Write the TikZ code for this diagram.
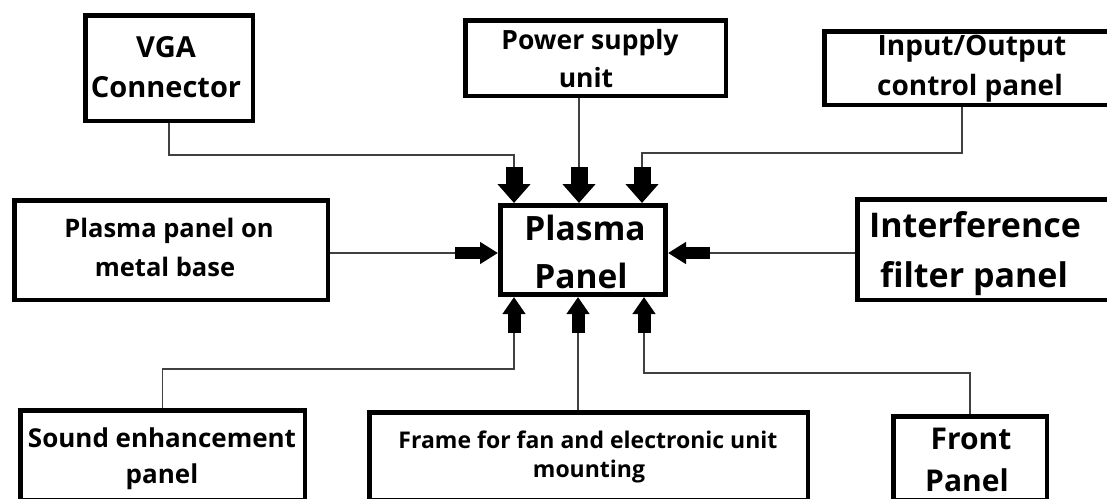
\documentclass[tikz,border=0pt]{standalone}
\usepackage{fontspec}
\setmainfont{Open Sans}
\usetikzlibrary{arrows.meta}
\tikzset{
  box/.style={draw=black, line width=4.5pt, fill=white, inner sep=0pt},
  txt/.style={anchor=base, inner sep=0pt, text=black},
  conn/.style={draw=black!75, line width=1.6pt},
  topar/.style={line width=17pt, -{Triangle[length=19pt,width=32pt]}},
  botar/.style={line width=13pt, -{Triangle[length=17pt,width=22pt]}},
  sidear/.style={line width=12pt, -{Triangle[length=18pt,width=21pt]}},
}
\newcommand{\fs}[1]{\fontsize{#1}{#1}\selectfont\bfseries}
\begin{document}
\begin{tikzpicture}[x=1pt,y=-1pt]
\fill[white] (0,0) rectangle (1107,498);
\useasboundingbox (0,0) rectangle (1107,498);

% boxes
\node[box, minimum width=167.5pt, minimum height=105.5pt] (vga) at (169,68) {};
\node[box, minimum width=260.5pt, minimum height=75.5pt] (psu) at (595.5,58) {};
\node[box, minimum width=288.5pt, minimum height=73.5pt] (io) at (968.5,68) {};
\node[box, minimum width=313.5pt, minimum height=99.5pt] (metal) at (171,250) {};
\node[box, line width=5pt, minimum width=165pt, minimum height=89pt] (pp) at (583,250) {};
\node[box, minimum width=255.5pt, minimum height=100.5pt] (intf) at (985,249.5) {};
\node[box, minimum width=284.5pt, minimum height=89.5pt] (sound) at (162.5,455) {};
\node[box, minimum width=438.5pt, minimum height=87.5pt] (frame) at (588.5,456) {};
\node[box, minimum width=153.5pt, minimum height=83.5pt] (front) at (970,458) {};

% texts
\node[txt, font=\fs{29}] (vga1) at (166,57) {VGA};
\node[txt, font=\fs{29}] (vga2) at (166,97) {Connector};
\node[txt, font=\fs{26.5}] (psu1) at (590,49) {Power supply};
\node[txt, font=\fs{26.5}] (psu2) at (586,87) {unit};
\node[txt, font=\fs{28}] (io1) at (972,55) {Input/Output};
\node[txt, font=\fs{28}] (io2) at (970,95) {control panel};
\node[txt, font=\fs{25.5}] (metal1) at (169,237) {Plasma panel on};
\node[txt, font=\fs{25.5}] (metal2) at (165,276) {metal base};
\node[txt, font=\fs{33.5}] (pp1) at (585,240) {Plasma};
\node[txt, font=\fs{33.5}] (pp2) at (581,288) {Panel};
\node[txt, font=\fs{34}] (intf1) at (975,237) {Interference};
\node[txt, font=\fs{34}] (intf2) at (974,287) {filter panel};
\node[txt, font=\fs{26}] (sound1) at (162,447) {Sound enhancement};
\node[txt, font=\fs{26}] (sound2) at (162,483) {panel};
\node[txt, font=\fs{23}] (frame1) at (588,448) {Frame for fan and electronic unit};
\node[txt, font=\fs{23}] (frame2) at (589,477) {mounting};
\node[txt, font=\fs{30}] (front1) at (971,449) {Front};
\node[txt, font=\fs{30}] (front2) at (967,491) {Panel};

% coordinates for arrow starts and bends
\coordinate (t1) at (514,167);
\coordinate (t1c) at (514,155);
\coordinate (t2) at (579,167);
\coordinate (t3) at (642,167);
\coordinate (t3c) at (642,153);
\coordinate (iox) at (962,153);
\coordinate (t4) at (455,253);
\coordinate (t5) at (710,253);
\coordinate (b1) at (514,333);
\coordinate (b1c) at (514,369);
\coordinate (b2) at (578,333);
\coordinate (b3) at (644,333);
\coordinate (b3c) at (644,373);

% thin connectors
\draw[conn] (vga.south) |- (t1c) -- (t1);
\draw[conn] (psu.south -| t2) -- (t2);
\draw[conn] (io.south -| iox) -- (iox) -- (t3c) -- (t3);
\draw[conn] (metal.east |- t4) -- (t4);
\draw[conn] (intf.west |- t5) -- (t5);
\draw[conn] (sound.north) |- (b1c) -- (b1);
\draw[conn] (frame.north -| b2) -- (b2);
\draw[conn] (front.north) |- (b3c) -- (b3);

% fat arrows
\draw[topar] (t1) -- (pp.north -| t1);
\draw[topar] (t2) -- (pp.north -| t2);
\draw[topar] (t3) -- (pp.north -| t3);
\draw[botar] (b1) -- (pp.south -| b1);
\draw[botar] (b2) -- (pp.south -| b2);
\draw[botar] (b3) -- (pp.south -| b3);
\draw[sidear] (t4) -- (pp.west |- t4);
\draw[sidear] (t5) -- (pp.east |- t5);
\end{tikzpicture}
\end{document}
